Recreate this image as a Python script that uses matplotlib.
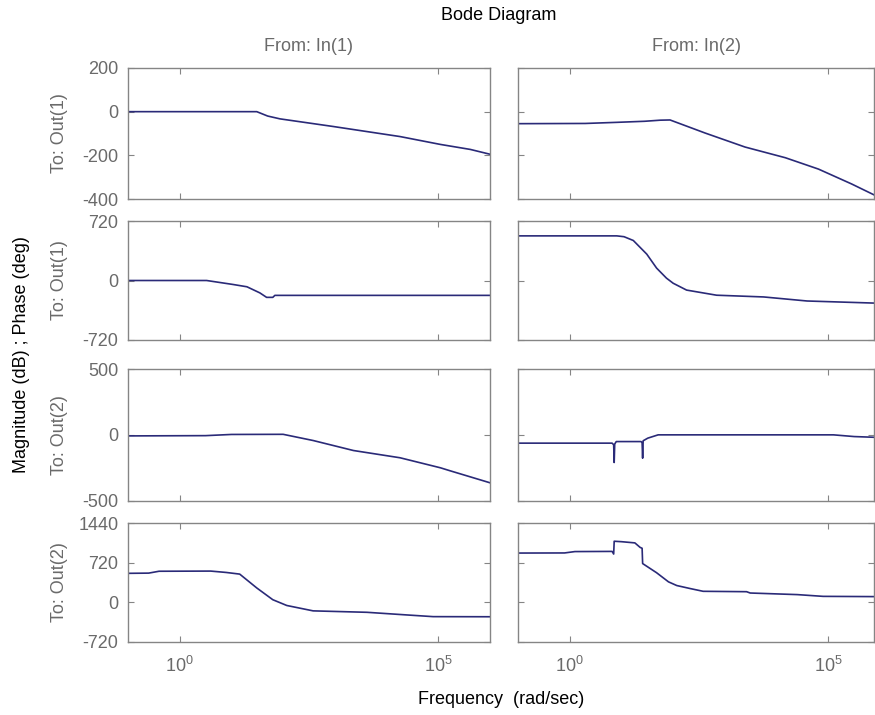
import matplotlib
matplotlib.use("Agg")
import matplotlib.pyplot as plt
import numpy as np

plt.rcParams["font.family"] = ["Liberation Sans", "DejaVu Sans"]
plt.rcParams["mathtext.default"] = "regular"
plt.rcParams["axes.unicode_minus"] = False

LINE = "#2a2a78"
GRAY = "#6a6a6a"
SPINE = "#858585"

# frequencies are given as log10(rad/sec)
# In(1) -> Out(1), magnitude (dB)
dec_11 = [-1, 1.49, 1.7, 1.94, 2.97, 4.26, 5.04, 5.62, 6.0]
mag_11 = [0, 0, -20, -33, -68, -114, -150, -173, -195]

# In(2) -> Out(1), magnitude (dB)
dec_12 = [-1, 0.3, 0.9, 1.45, 1.75, 1.94, 2.62, 3.39, 4.17, 4.81, 5.45, 5.91, 6.0]
mag_12 = [-55, -54, -49, -44, -39, -38, -98, -162, -211, -263, -331, -384, -398]

# In(1) -> Out(1), phase (deg)
dec_21 = [-1, 0.52, 1.03, 1.3, 1.55, 1.68, 1.8, 1.84, 6.0]
ph_21 = [0, 0, -48, -76, -150, -204, -204, -180, -180]

# In(2) -> Out(1), phase (deg)
dec_22 = [-1, 0.91, 1.05, 1.23, 1.49, 1.68, 1.87, 2.0, 2.26, 2.84, 3.75, 4.59, 5.87, 6.0]
ph_22 = [540, 540, 530, 484, 319, 150, 29, -33, -116, -178, -199, -248, -273, -275]

# In(1) -> Out(2), magnitude (dB)
dec_31 = [-1, 0.5, 1.0, 2.0, 2.58, 3.36, 4.26, 5.04, 5.23, 6.0]
mag_31 = [-8, -6, 3, 4, -43, -119, -174, -250, -273, -364]

# In(2) -> Out(2), magnitude (dB)
dec_32 = [-1, 0.82, 0.85, 0.86, 0.87, 0.9, 1.38, 1.40, 1.41, 1.42, 1.51, 1.71, 5.1, 5.5, 6.0]
mag_32 = [-63, -63, -75, -210, -70, -51, -51, -60, -177, -45, -25, 0, 0, -13, -20]

# In(1) -> Out(2), phase (deg)
dec_41 = [-1, -0.6, -0.4, 0.6, 0.9, 1.16, 1.49, 1.8, 2.07, 2.58, 3.62, 4.39, 4.9, 6.0]
ph_41 = [524, 528, 562, 565, 540, 510, 258, 44, -61, -159, -185, -233, -264, -266]

# In(2) -> Out(2), phase (deg)
dec_42 = [-1, -0.1, 0.1, 0.82, 0.85, 0.86, 1.0, 1.26, 1.36, 1.40, 1.41, 1.68, 1.91, 2.07,
          2.33, 2.58, 3.42, 3.49, 4.4, 4.9, 6.0]
ph_42 = [893, 895, 920, 923, 875, 1108, 1100, 1078, 997, 980, 702, 535, 369, 302,
         247, 197, 190, 166, 137, 105, 100]

panels = [
    [(dec_11, mag_11), (dec_12, mag_12)],
    [(dec_21, ph_21), (dec_22, ph_22)],
    [(dec_31, mag_31), (dec_32, mag_32)],
    [(dec_41, ph_41), (dec_42, ph_42)],
]
row_ylim = [(-400, 200), (-720, 720), (-500, 500), (-720, 1440)]
row_yticks = [[-400, -200, 0, 200], [-720, 0, 720], [-500, 0, 500], [-720, 0, 720, 1440]]
row_names = ["To: Out(1)", "To: Out(1)", "To: Out(2)", "To: Out(2)"]
col_names = ["From: In(1)", "From: In(2)"]
x_tick_vals = [1, 1e5]
x_tick_labels = [r"$10^{0}$", r"$10^{5}$"]

W, H = 875, 715
fig = plt.figure(figsize=(W / 100, H / 100), dpi=100)

# pixel boxes (left, right) and (top, bottom)
cols_px = [(128, 490), (518, 874)]
rows_px = [(68, 199), (221, 340), (369, 500.7), (523, 641.7)]
px_per_dec = 362 / 7.0

for r, (top, bot) in enumerate(rows_px):
    for c, (left, right) in enumerate(cols_px):
        ax = fig.add_axes([left / W, 1 - bot / H, (right - left) / W, (bot - top) / H])
        d, v = panels[r][c]
        ax.semilogx(np.power(10.0, d), v, color=LINE, lw=1.2)
        ax.set_xlim(0.1, 10 ** (-1 + (right - left) / px_per_dec))
        ax.set_ylim(*row_ylim[r])
        ax.set_yticks(row_yticks[r])
        ax.set_xticks(x_tick_vals)
        ax.minorticks_off()
        ax.tick_params(direction="in", top=True, right=True, length=4, width=0.8,
                       color=SPINE, labelcolor=GRAY, labelsize=13, pad=7)
        ax.tick_params(axis="x", pad=10)
        for s in ax.spines.values():
            s.set_color(SPINE)
            s.set_linewidth(1.0)
        if r == 3:
            ax.set_xticklabels(x_tick_labels)
        else:
            ax.set_xticklabels([])
        if c == 1:
            ax.set_yticklabels([])
        if r == 0:
            ax.set_title(col_names[c], color=GRAY, fontsize=13, pad=12)
    fig.text(60 / W, 1 - (top + bot) / 2 / H, row_names[r], rotation=90, color=GRAY,
             fontsize=13, ha="center", va="center")

fig.text(499 / W, 1 - 15 / H, "Bode Diagram", ha="center", va="center", fontsize=13)
fig.text(22 / W, 1 - 355 / H, "Magnitude (dB) ; Phase (deg)", rotation=90,
         ha="center", va="center", fontsize=13)
fig.text(501 / W, 1 - 700 / H, "Frequency  (rad/sec)", ha="center", va="center", fontsize=13)

fig.savefig("out.png", dpi=100)
